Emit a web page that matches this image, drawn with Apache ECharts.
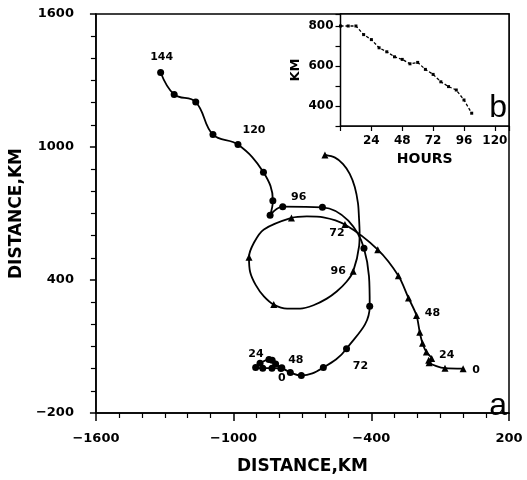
<!DOCTYPE html>
<html><head><meta charset="utf-8">
<script src="https://cdn.jsdelivr.net/npm/echarts@6/dist/echarts.min.js"></script>
<style>html,body{margin:0;padding:0;background:#fff}#c{width:527px;height:480px}</style>
</head><body><div id="c"></div>
<script>
// ---- Panel a: track with circles (hours every 6 h) ----
const hoursA = [0,6,12,18,24,30,36,42,48,54,60,66,72,78,84,90,96,102,108,114,120,126,132,138,144];
const trackAX = [-794,-833,-873,-904,-885,-846,-832,-817,-790,-753,-705,-609,-508,-407,-432,-613,-786,-841,-829,-870,-981,-1090,-1165,-1259,-1318];
const trackAY = [1,2,2,5,25,41,38,21,4,-17,-31,5,90,282,543,728,731,692,758,886,1011,1056,1203,1237,1336];
const labeledA = [0,24,48,72,96,120,144];

// ---- Panel a: track with triangles (null hour = unmarked point) ----
const hoursB = [0,6,12,18,24,30,36,42,48,54,60,66,72,null,null,78,null,null,84,null,null,null,90,null,null,null,null,null,null,96,null,null,null,null,null,null,null,null,108];
const trackBX = [0,-79,-148,-150,-137,-160,-177,-189,-203,-238,-282,-372,-515,-609,-681,-748,-868,-911,-933,-928,-904,-868,-825,-767,-710,-652,-594,-551,-508,-479,-453,-451,-454,-458,-472,-494,-523,-558,-602];
const trackBY = [0,2,27,38,46,75,115,164,240,319,419,537,650,683,687,680,628,569,503,436,378,326,289,271,271,286,316,348,392,439,554,613,687,746,820,879,923,952,964];
const labeledB = [0,24,48,72,96];

// ---- Panel b (inset) ----
const insetHours = [0,6,12,18,24,30,36,42,48,54,60,66,72,78,84,90,96,102];
const insetKm = [800,800,800,757,732,691,671,646,633,611,618,583,558,521,497,480,430,364];

// ---- tick labels ----
const mainXTicks = [-1600,-1000,-400,200];
const mainYTicks = [-200,400,1000,1600];
const insetXTicks = [24,48,72,96,120];
const insetYTicks = [400,600,800];

// label offsets (style)
const offA = {0:[1,10],24:[-4,-9],48:[14,-8],72:[14,17],96:[16,-9],120:[16,-14],144:[1,-15]};
const offB = {0:[13,1],24:[15,-3],48:[16,-2],72:[-8,9],96:[-15,0]};

const FONT = 'DejaVu Sans';
const labelStyle = {fontFamily:FONT,fontWeight:'bold',fontSize:11,color:'#000'};
function buildTrack(hours, xs, ys, labeled, off){
  return hours.map((h,i)=>{
    const item = {value:[xs[i],ys[i]]};
    if(h === null){ item.symbolSize = 0; }
    else if(labeled.includes(h)){
      item.label = Object.assign({show:true,position:'inside',offset:off[h],formatter:String(h)},labelStyle);
    }
    return item;
  });
}
const minusFmt = v => (v<0 ? '\u2212' + Math.abs(v) : String(v));

const chart = echarts.init(document.getElementById('c'));
chart.setOption({
  animation:false,
  backgroundColor:'#fff',
  grid:[
    {left:94,top:14,width:415,height:407,show:true,borderColor:'#000',borderWidth:1.5,backgroundColor:'transparent'},
    {left:340.5,top:14,width:168.5,height:112,show:true,borderColor:'#000',borderWidth:1.5,backgroundColor:'#fff',z:5}
  ],
  xAxis:[
    {type:'value',gridIndex:0,min:mainXTicks[0],max:mainXTicks[3],interval:600,
     axisLine:{show:true,onZero:false,lineStyle:{color:'#000',width:1.5}},
     axisTick:{show:true,length:8,lineStyle:{color:'#000',width:1.5}},
     minorTick:{show:true,splitNumber:6,length:5,lineStyle:{color:'#000',width:1.2}},
     splitLine:{show:false},
     axisLabel:{margin:19,color:'#000',fontFamily:FONT,fontWeight:'bold',fontSize:13,
       formatter:v=>mainXTicks.includes(v)?minusFmt(v):''},
     name:'DISTANCE,KM',nameLocation:'middle',nameGap:45,
     nameTextStyle:{fontFamily:FONT,fontSize:17,fontWeight:'bold',color:'#000'}},
    {type:'value',gridIndex:1,min:0,max:131,interval:24,
     axisLine:{show:true,onZero:false,lineStyle:{color:'#000',width:1.5}},
     axisTick:{show:true,length:5,lineStyle:{color:'#000',width:1.2}},
     splitLine:{show:false},
     axisLabel:{margin:9,color:'#000',fontFamily:FONT,fontWeight:'bold',fontSize:12,
       formatter:v=>insetXTicks.includes(v)?String(v):''},
     name:'HOURS',nameLocation:'middle',nameGap:26,
     nameTextStyle:{fontFamily:FONT,fontSize:14,fontWeight:'bold',color:'#000'}}
  ],
  yAxis:[
    {type:'value',gridIndex:0,min:mainYTicks[0],max:mainYTicks[3],interval:600,
     axisLine:{show:true,onZero:false,lineStyle:{color:'#000',width:1.5}},
     axisTick:{show:true,length:6,lineStyle:{color:'#000',width:1.5}},
     minorTick:{show:true,splitNumber:6,length:5,lineStyle:{color:'#000',width:1.2}},
     splitLine:{show:false},
     axisLabel:{margin:22,color:'#000',fontFamily:FONT,fontWeight:'bold',fontSize:13,
       formatter:v=>mainYTicks.includes(v)?minusFmt(v):''},
     name:'DISTANCE,KM',nameLocation:'middle',nameGap:68,nameRotate:90,
     nameTextStyle:{fontFamily:FONT,fontSize:17,fontWeight:'bold',color:'#000'}},
    {type:'value',gridIndex:1,min:300,max:860,interval:100,
     axisLine:{show:true,onZero:false,lineStyle:{color:'#000',width:1.5}},
     axisTick:{show:true,length:5,lineStyle:{color:'#000',width:1.2}},
     splitLine:{show:false},
     axisLabel:{margin:7,color:'#000',fontFamily:FONT,fontWeight:'bold',fontSize:12,
       formatter:v=>insetYTicks.includes(v)?String(v):''},
     name:'KM',nameLocation:'middle',nameGap:38,nameRotate:90,
     nameTextStyle:{fontFamily:FONT,fontSize:13,fontWeight:'bold',color:'#000'}}
  ],
  series:[
    {type:'line',xAxisIndex:0,yAxisIndex:0,smooth:0.4,
     data:buildTrack(hoursA,trackAX,trackAY,labeledA,offA),
     symbol:'circle',symbolSize:7,showSymbol:true,
     lineStyle:{color:'#000',width:1.8},itemStyle:{color:'#000'}},
    {type:'line',xAxisIndex:0,yAxisIndex:0,smooth:0.3,
     data:buildTrack(hoursB,trackBX,trackBY,labeledB,offB),
     symbol:'triangle',symbolSize:7,showSymbol:true,
     lineStyle:{color:'#000',width:1.8},itemStyle:{color:'#000'}},
    {type:'line',xAxisIndex:1,yAxisIndex:1,z:6,
     data:insetHours.map((h,i)=>[h,insetKm[i]]),
     symbol:'rect',symbolSize:3,showSymbol:true,
     lineStyle:{color:'#000',width:1.3,type:[3,2]},itemStyle:{color:'#000'}}
  ],
  graphic:[
    {type:'text',right:20,top:390,z:10,style:{text:'a',font:'32px "Liberation Sans"',fill:'#000'}},
    {type:'text',right:20,top:92,z:10,style:{text:'b',font:'32px "Liberation Sans"',fill:'#000'}}
  ]
});
</script></body></html>
